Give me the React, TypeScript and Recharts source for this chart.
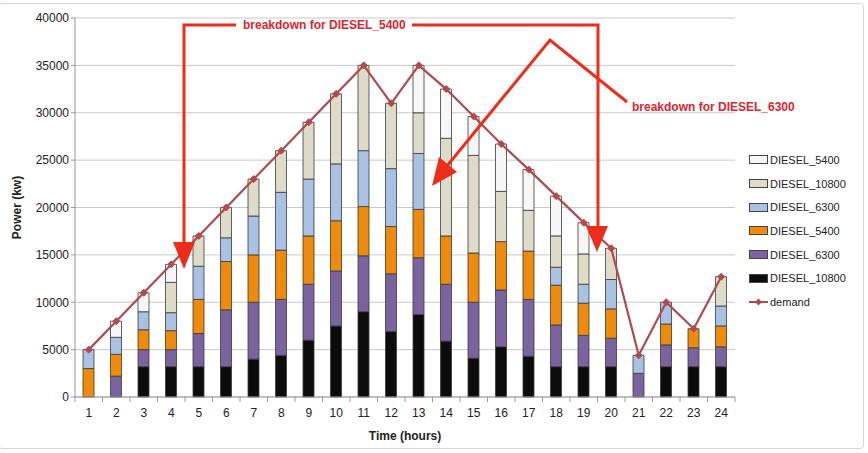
import React from 'react';
import { ComposedChart, Bar, Line, XAxis, YAxis, CartesianGrid, Legend } from 'recharts';

// hours on the x axis
const hours = ['1', '2', '3', '4', '5', '6', '7', '8', '9', '10', '11', '12', '13', '14', '15', '16', '17', '18', '19', '20', '21', '22', '23', '24'];

// stacked generator output, bottom to top
const diesel10800a = [0, 0, 3200, 3200, 3200, 3200, 4000, 4400, 6000, 7500, 9000, 6900, 8700, 5900, 4100, 5300, 4300, 3200, 3200, 3200, 0, 3200, 3200, 3200];
const diesel6300a = [0, 2200, 1800, 1800, 3500, 6000, 6000, 5900, 5900, 5800, 5900, 6100, 6000, 6000, 5900, 6000, 6000, 4400, 3300, 3000, 2500, 2300, 2000, 2100];
const diesel5400a = [3000, 2300, 2100, 2000, 3600, 5100, 5000, 5200, 5100, 5300, 5200, 5000, 5100, 5100, 5200, 5100, 5100, 4200, 3400, 3100, 0, 2200, 2000, 2200];
const diesel6300b = [2000, 1800, 1900, 1900, 3500, 2500, 4100, 6100, 6000, 6000, 5900, 6100, 5900, 0, 0, 0, 0, 1900, 2000, 3100, 1900, 2300, 0, 2100];
const diesel10800b = [0, 0, 0, 3200, 3200, 3200, 3900, 4400, 6000, 7400, 9000, 6900, 4300, 10300, 10300, 5300, 4300, 3300, 3200, 3300, 0, 0, 0, 3100];
const diesel5400b = [0, 1700, 2000, 1900, 0, 0, 0, 0, 0, 0, 0, 0, 5000, 5200, 4100, 5000, 4300, 4200, 3300, 0, 0, 0, 0, 0];

const demand = [5000, 8000, 11000, 14000, 17000, 20000, 23000, 26000, 29000, 32000, 35000, 31000, 35000, 32500, 29600, 26700, 24000, 21200, 18400, 15700, 4400, 10000, 7200, 12700];

const yTicks = [0, 5000, 10000, 15000, 20000, 25000, 30000, 35000, 40000];

const series = [
  { key: 'd10800a', name: 'DIESEL_10800', color: '#0c0c0c', values: diesel10800a },
  { key: 'd6300a', name: 'DIESEL_6300', color: '#7b63a0', values: diesel6300a },
  { key: 'd5400a', name: 'DIESEL_5400', color: '#ee8a0c', values: diesel5400a },
  { key: 'd6300b', name: 'DIESEL_6300', color: '#a9c1e2', values: diesel6300b },
  { key: 'd10800b', name: 'DIESEL_10800', color: '#dedbc9', values: diesel10800b },
  { key: 'd5400b', name: 'DIESEL_5400', color: '#f7f7f7', values: diesel5400b },
];

const data = hours.map((h, i) => {
  const row: Record<string, string | number> = { hour: h, demand: demand[i] };
  series.forEach(s => { row[s.key] = s.values[i]; });
  return row;
});

const FONT = "'Liberation Sans', Arial, sans-serif";
const LINE = '#b04a4c';
const RED = '#ee2c1c';

const Diamond = (props: any) => {
  const { cx, cy } = props;
  if (cx == null || cy == null) return null;
  return <polygon points={`${cx},${cy - 3.5} ${cx + 3.5},${cy} ${cx},${cy + 3.5} ${cx - 3.5},${cy}`} fill={LINE} stroke={LINE} />;
};

const HourTick = (props: any) => {
  const { x, y, payload, index } = props;
  const half = 27.5 / 2;
  return (
    <g>
      <line x1={x - half} x2={x - half} y1={y - 8} y2={y - 3} stroke="#999" />
      {index === hours.length - 1 && <line x1={x + half} x2={x + half} y1={y - 8} y2={y - 3} stroke="#999" />}
      <text x={x} y={y + 12} textAnchor="middle" fontSize={12} fill="#222" fontFamily={FONT}>{payload.value}</text>
    </g>
  );
};

const LegendBox = () => (
  <div style={{ fontFamily: FONT, fontSize: 11, color: '#222' }}>
    {[...series].reverse().map(s => (
      <div key={s.key} style={{ display: 'flex', alignItems: 'center', height: 23.7 }}>
        <span style={{ width: 17, height: 7, background: s.color, border: '1px solid #444', marginRight: 2 }} />
        <span>{s.name}</span>
      </div>
    ))}
    <div style={{ display: 'flex', alignItems: 'center', height: 23.7 }}>
      <svg width={19} height={10} style={{ marginRight: 2 }}>
        <line x1={0} x2={19} y1={5} y2={5} stroke={LINE} strokeWidth={2} />
        <polygon points="9.5,1.5 13,5 9.5,8.5 6,5" fill={LINE} />
      </svg>
      <span>demand</span>
    </div>
  </div>
);

// red call-out arrows drawn over the chart
const Annotations = () => (
  <svg width={868} height={453} style={{ position: 'absolute', left: 0, top: 0, pointerEvents: 'none' }}>
    <g stroke={RED} strokeWidth={3} fill="none">
      <polyline points="236,25 184,25 184,244" />
      <polyline points="412,25 598,25 598,228" />
      <polyline points="627,102 550,40 447,166" />
    </g>
    <g fill={RED}>
      <polygon points="173,242 195,242 184,269" />
      <polygon points="586,226 608,226 597,252" />
      <polygon points="457,172 439,157 432,186" />
    </g>
    <g fill="#e0242c" fontFamily={FONT} fontSize={12} fontWeight="bold">
      <text x={243} y={29}>breakdown for DIESEL_5400</text>
      <text x={632} y={111}>breakdown for DIESEL_6300</text>
    </g>
  </svg>
);

export default function App() {
  return (
    <div style={{ position: 'absolute', left: 0, top: 0, width: 868, height: 453, background: '#fff' }}>
      <div style={{ position: 'absolute', left: -2, top: 3, width: 864, height: 444, border: '1px solid #d6d6d6', borderRadius: 4 }} />
      <ComposedChart
        width={868}
        height={453}
        data={data}
        margin={{ top: 18, right: 18, bottom: 11, left: 0 }}
        barSize={11}
        style={{ fontFamily: FONT }}
      >
        <CartesianGrid vertical={false} stroke="#c9c9c9" />
        <XAxis
          dataKey="hour"
          height={45}
          tickLine={false}
          axisLine={{ stroke: '#999' }}
          tick={<HourTick />}
          interval={0}
          label={{ value: 'Time (hours)', position: 'insideBottom', offset: 2, style: { fontWeight: 'bold', fontSize: 12, fill: '#222', fontFamily: FONT } }}
        />
        <YAxis
          width={75}
          domain={[0, 40000]}
          ticks={yTicks}
          tickSize={4}
          tickLine={{ stroke: '#999' }}
          axisLine={{ stroke: '#999' }}
          tick={{ fontSize: 12, fill: '#222', fontFamily: FONT }}
          label={{ value: 'Power (kw)', angle: -90, position: 'insideLeft', offset: 17, style: { textAnchor: 'middle', fontWeight: 'bold', fontSize: 12, fill: '#222', fontFamily: FONT } }}
        />
        {series.map(s => (
          <Bar key={s.key} dataKey={s.key} name={s.name} stackId="gen" fill={s.color} stroke="#3a3a3a" strokeWidth={0.8} isAnimationActive={false} />
        ))}
        <Line dataKey="demand" name="demand" stroke={LINE} strokeWidth={2.2} dot={<Diamond />} isAnimationActive={false} type="linear" />
        <Legend
          layout="vertical"
          align="right"
          verticalAlign="top"
          content={() => <LegendBox />}
          wrapperStyle={{ left: 749, top: 148, width: 115 }}
        />
      </ComposedChart>
      <Annotations />
    </div>
  );
}
